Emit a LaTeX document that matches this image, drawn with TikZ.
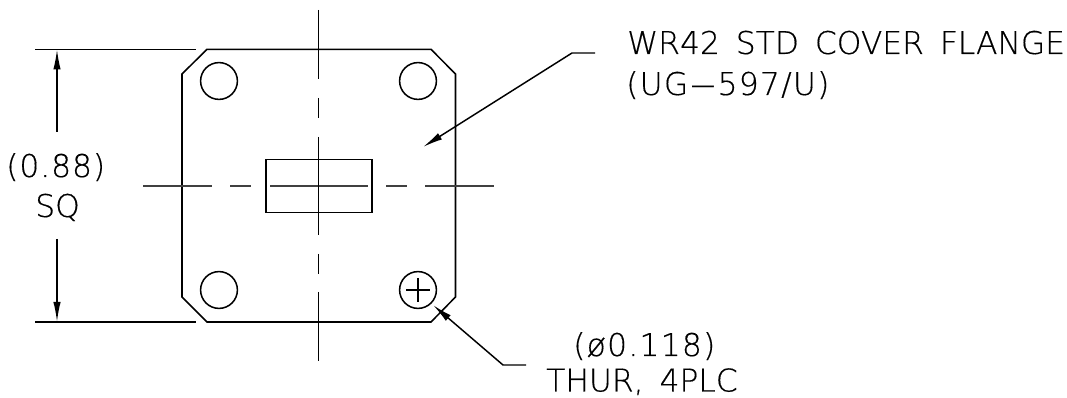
\documentclass[tikz,border=0pt]{standalone}
\usepackage{graphicx}
\usepackage{fontspec}
\setmainfont{DejaVu Sans}[UprightFont=* ExtraLight,WordSpace=1.6,FakeBold=0.4]
\usetikzlibrary{arrows.meta}
\newcommand{\longhyphen}{\scalebox{2.6}[1]{-}}
\newcommand{\spaced}[1]{\addfontfeature{LetterSpace=#1}}
\tikzset{
  x=0.75pt,y=-0.75pt,
  outline/.style={line width=1.15pt,line join=miter},
  thin line/.style={line width=0.9pt},
  center line/.style={line width=0.8pt,draw=black!75},
  leader/.style={line width=1.1pt},
  tip/.style={-{Latex[length=15pt,width=5.5pt]}},
  label/.style={font=\fontsize{23.5pt}{27pt}\selectfont,inner sep=0pt,anchor=base west,text=black}
}
\begin{document}
\begin{tikzpicture}
\useasboundingbox (0,0) rectangle (1067,398);
% flange outline
\draw[outline] (207,49.3) -- (431,49.3) -- (455.5,74) -- (455.5,297) -- (431,322) -- (207,322) -- (182,297) -- (182,74) -- cycle;
\node[circle,draw,outline,minimum size=27.6pt,inner sep=0pt] (h1) at (219,81) {};
\node[circle,draw,outline,minimum size=27.6pt,inner sep=0pt] (h2) at (418,81) {};
\node[circle,draw,outline,minimum size=27.6pt,inner sep=0pt] (h3) at (219,290) {};
\node[circle,draw,outline,minimum size=27.6pt,inner sep=0pt] (h4) at (418,290) {};
\draw[thin line] (406,290) -- (430,290) (418,278) -- (418,302);
% waveguide opening
\node[draw,outline,minimum width=79.5pt,minimum height=39.8pt,inner sep=0pt] (wg) at (319,186) {};
% center lines
\draw[center line] (143,186) -- (212,186) (230,186) -- (251,186) (270,186) -- (368,186) (386,186) -- (407,186) (425,186) -- (494,186);
\draw[thin line] (318.7,10) -- (318.7,79) (318.7,98) -- (318.7,118) (318.7,137) -- (318.7,235) (318.7,254) -- (318.7,274) (318.7,292) -- (318.7,361);
% dimension
\coordinate (e1a) at (35,49.3); \coordinate (e1b) at (196,49.3);
\coordinate (e2a) at (35,322); \coordinate (e2b) at (196,322);
\draw[outline] (e1a) -- (e1b) (e2a) -- (e2b);
\coordinate (d1) at (57,132); \coordinate (d1t) at (57,49.3);
\coordinate (d2) at (57,239); \coordinate (d2t) at (57,322);
\draw[outline,tip] (d1) -- (d1t);
\draw[outline,tip] (d2) -- (d2t);
\node[label] (dim1) at (6,177) {\spaced{3}(0.88)};
\node[label] (dim2) at (35,217) {SQ};
% leaders
\coordinate (l1a) at (595,53); \coordinate (l1b) at (572,53); \coordinate (l1t) at (423,147);
\draw[leader,tip] (l1a) -- (l1b) -- (l1t);
\coordinate (l2a) at (526,365); \coordinate (l2b) at (503,365); \coordinate (l2t) at (433,305);
\draw[leader,tip] (l2a) -- (l2b) -- (l2t);
\node[label] (t1) at (627,54) {WR42 STD COVER FLANGE};
\node[label] (t2) at (626,95) {\spaced{4}(UG\longhyphen 597/U)};
\node[label] (t3) at (573,356) {\spaced{4}(ø0.118)};
\node[label] (t4) at (546,391.5) {THUR, 4PLC};
\end{tikzpicture}
\end{document}
